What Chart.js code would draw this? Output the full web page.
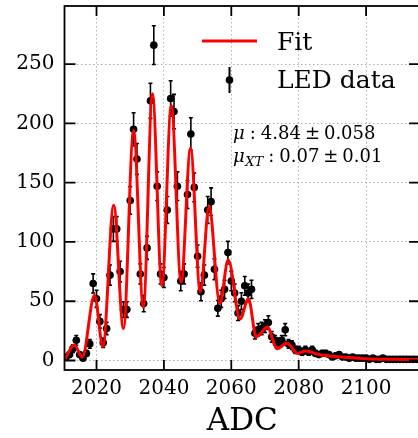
<!DOCTYPE html>
<html>
<head>
<meta charset="utf-8">
<script src="https://cdn.jsdelivr.net/npm/chart.js@4.4.1/dist/chart.umd.min.js"></script>
<style>
  html, body { margin: 0; padding: 0; background: #fff; overflow: hidden; }
  canvas { display: block; }
</style>
</head>
<body>
<canvas id="myChart" width="424" height="438"></canvas>
<script>
// LED spectrum, one count per ADC bin starting at firstBin
const firstBin = 2011;
const counts = [
  3, 5, 10, 17, 5, 2, 6, 14, 65, 52,
  33, 15, 27, 72, 111, 111, 75, 43, 43, 135,
  195, 170, 73, 48, 95, 219, 266, 147, 73, 70,
  127, 221, 210, 147, 67, 73, 140, 191, 146, 88,
  58, 72, 127, 134, 77, 44, 52, 60, 91, 67,
  57, 40, 50, 63, 57, 60, 23, 26, 27, 29,
  32, 20, 17, 15, 17, 26, 14, 13, 9, 9,
  7, 9, 7, 9, 6, 5, 6, 6, 5, 3,
  4, 5, 3, 3, 2, 3, 2, 2, 2, 2,
  1, 2, 1, 1, 2, 1, 1, 1, 1, 1,
  1, 1, 1, 1, 1, 1
];
const errors = [
  1.7, 2.2, 3.2, 4.1, 2.2, 1.4, 2.4, 3.7, 8.1, 7.2,
  5.7, 3.9, 5.2, 8.5, 10.5, 10.5, 8.7, 6.6, 6.6, 11.6,
  14.0, 13.0, 8.5, 6.9, 9.7, 14.8, 16.3, 12.1, 8.5, 8.4,
  11.3, 14.9, 14.5, 12.1, 8.2, 8.5, 11.8, 13.8, 12.1, 9.4,
  7.6, 8.5, 11.3, 11.6, 8.8, 6.6, 7.2, 7.7, 9.5, 8.2,
  7.5, 6.3, 7.1, 7.9, 7.5, 7.7, 4.8, 5.1, 5.2, 5.4,
  5.7, 4.5, 4.1, 3.9, 4.1, 5.1, 3.7, 3.6, 3.0, 3.0,
  2.6, 3.0, 2.6, 3.0, 2.4, 2.2, 2.4, 2.4, 2.2, 1.7,
  2.0, 2.2, 1.7, 1.7, 1.4, 1.7, 1.4, 1.4, 1.4, 1.4,
  1.0, 1.4, 1.0, 1.0, 1.4, 1.0, 1.0, 1.0, 1.0, 1.0,
  1.0, 1.0, 1.0, 1.0, 1.0, 1.0
];

// fit curve: peaks and valleys
const fitX = [2010.5, 2013.4, 2015.8, 2019.4, 2021.9, 2025.1, 2028.0, 2031.0, 2033.9, 2036.6,
  2039.4, 2042.2, 2045.1, 2047.9, 2050.8, 2053.4, 2056.6, 2059.1, 2062.6, 2065.1,
  2067.4, 2070.7, 2073.6, 2076.5, 2079.7, 2082.1, 2086, 2090, 2095, 2100, 2108, 2116];
const fitY = [0.5, 13, 3, 55, 12, 131, 27, 194, 45, 225,
  63, 215, 66, 179, 58, 130, 48, 85, 35, 52,
  20, 28, 10, 14.5, 6, 8, 5, 3.5, 2.5, 1.5, 1, 0.8];

const xTicks = [2020, 2040, 2060, 2080, 2100];
const yTicks = [0, 50, 100, 150, 200, 250];

const points = counts.map((c, i) => ({x: firstBin + i, y: c, err: errors[i]}));
const fitPoints = fitX.map((x, i) => ({x: x, y: fitY[i]}));

const serif = '"DejaVu Serif", "Liberation Serif", serif';

// error bars under the markers
const errorBars = {
  id: 'errorBars',
  beforeDatasetsDraw(chart) {
    const {ctx, chartArea, scales} = chart;
    ctx.save();
    ctx.beginPath();
    ctx.rect(chartArea.left, chartArea.top, chartArea.right - chartArea.left, chartArea.bottom - chartArea.top);
    ctx.clip();
    ctx.strokeStyle = '#000';
    ctx.lineWidth = 1.6;
    points.forEach(p => {
      const px = scales.x.getPixelForValue(p.x);
      const y1 = scales.y.getPixelForValue(p.y + p.err);
      const y2 = scales.y.getPixelForValue(p.y - p.err);
      ctx.beginPath();
      ctx.moveTo(px, y1); ctx.lineTo(px, y2);
      ctx.moveTo(px - 2, y1); ctx.lineTo(px + 2, y1);
      ctx.moveTo(px - 2, y2); ctx.lineTo(px + 2, y2);
      ctx.stroke();
    });
    ctx.restore();
  }
};

// frame with inward ticks on all four sides
const frame = {
  id: 'frame',
  afterDatasetsDraw(chart) {
    const {ctx, chartArea: a, scales} = chart;
    ctx.save();
    ctx.strokeStyle = '#000';
    ctx.lineWidth = 1.8;
    ctx.strokeRect(a.left, a.top, a.right - a.left, a.bottom - a.top);
    ctx.beginPath();
    xTicks.forEach(v => {
      const px = scales.x.getPixelForValue(v);
      ctx.moveTo(px, a.bottom); ctx.lineTo(px, a.bottom - 10);
      ctx.moveTo(px, a.top); ctx.lineTo(px, a.top + 10);
    });
    yTicks.forEach(v => {
      const py = scales.y.getPixelForValue(v);
      ctx.moveTo(a.left, py); ctx.lineTo(a.left + 11, py);
      ctx.moveTo(a.right, py); ctx.lineTo(a.right - 11, py);
    });
    ctx.stroke();
    ctx.restore();
  }
};

// legend and fit parameters
const notes = {
  id: 'notes',
  afterDraw(chart) {
    const ctx = chart.ctx;
    ctx.save();
    ctx.strokeStyle = '#ff0000';
    ctx.lineWidth = 3;
    ctx.beginPath();
    ctx.moveTo(202, 41); ctx.lineTo(257, 41);
    ctx.stroke();

    ctx.strokeStyle = '#000';
    ctx.lineWidth = 2;
    ctx.beginPath();
    ctx.moveTo(229.5, 67); ctx.lineTo(229.5, 93);
    ctx.stroke();
    ctx.fillStyle = '#000';
    ctx.beginPath();
    ctx.arc(229.5, 80, 3.8, 0, Math.PI * 2);
    ctx.fill();

    ctx.font = '25px ' + serif;
    ctx.textBaseline = 'alphabetic';
    ctx.fillText('Fit', 277, 50);
    ctx.fillText('LED data', 277, 88);

    const f = 18;
    const it = 'italic ' + f + 'px ' + serif;
    const rm = f + 'px ' + serif;
    const sub = 'italic ' + Math.round(f * 0.7) + 'px ' + serif;
    const sp = f * 0.28;
    function piece(txt, font, x, y) {
      ctx.font = font;
      ctx.fillText(txt, x, y);
      return x + ctx.measureText(txt).width;
    }
    let x = 233, y = 139;
    x = piece('\u03bc', it, x, y) + sp;
    x = piece(':', rm, x, y) + sp;
    x = piece('4.84', rm, x, y) + f * 0.22;
    x = piece('\u00b1', rm, x, y) + f * 0.22;
    piece('0.058', rm, x, y);

    x = 233; y = 162;
    x = piece('\u03bc', it, x, y);
    x = piece('XT', sub, x + 0.5, y + 4) + sp;
    x = piece(':', rm, x, y) + sp;
    x = piece('0.07', rm, x, y) + f * 0.22;
    x = piece('\u00b1', rm, x, y) + f * 0.22;
    piece('0.01', rm, x, y);
    ctx.restore();
  }
};

const ctx = document.getElementById('myChart').getContext('2d');
const chart = new Chart(ctx, {
  type: 'scatter',
  data: {
    datasets: [{
      type: 'line',
      label: 'Fit',
      data: fitPoints,
      borderColor: '#ff0000',
      borderWidth: 3,
      pointRadius: 0,
      cubicInterpolationMode: 'monotone',
      fill: false,
      order: 0
    }, {
      type: 'scatter',
      label: 'LED data',
      data: points,
      backgroundColor: '#000',
      borderColor: '#000',
      borderWidth: 0,
      pointRadius: 3.8,
      order: 1
    }]
  },
  options: {
    responsive: false,
    animation: false,
    devicePixelRatio: 1,
    layout: {padding: {top: 6, right: 0.5, left: 0, bottom: 0}},
    plugins: {legend: {display: false}, tooltip: {enabled: false}},
    scales: {
      x: {
        type: 'linear',
        min: 2010.5,
        max: 2116,
        afterFit: s => { s.height = 68; s.paddingLeft = 0; s.paddingRight = 0; },
        afterBuildTicks: s => { s.ticks = xTicks.map(v => ({value: v})); },
        grid: {color: '#b0b0b0', lineWidth: 1, drawTicks: false},
        border: {display: false, dash: [1.5, 2.5]},
        ticks: {font: {family: serif, size: 20}, color: '#000', padding: 7, maxRotation: 0, autoSkip: false,
          callback: v => String(v)},
        title: {display: true, text: 'ADC', color: '#000', font: {family: serif, size: 31}, padding: {top: 0, bottom: -3}}
      },
      y: {
        min: -8,
        max: 299,
        afterFit: s => { s.width = 64.5; s.paddingTop = 0; s.paddingBottom = 0; },
        afterBuildTicks: s => { s.ticks = yTicks.map(v => ({value: v})); },
        grid: {color: '#b0b0b0', lineWidth: 1, drawTicks: false},
        border: {display: false, dash: [1.5, 2.5]},
        ticks: {font: {family: serif, size: 20}, color: '#000', padding: 10, callback: v => String(v)}
      }
    }
  },
  plugins: [errorBars, frame, notes]
});
</script>
</body>
</html>
